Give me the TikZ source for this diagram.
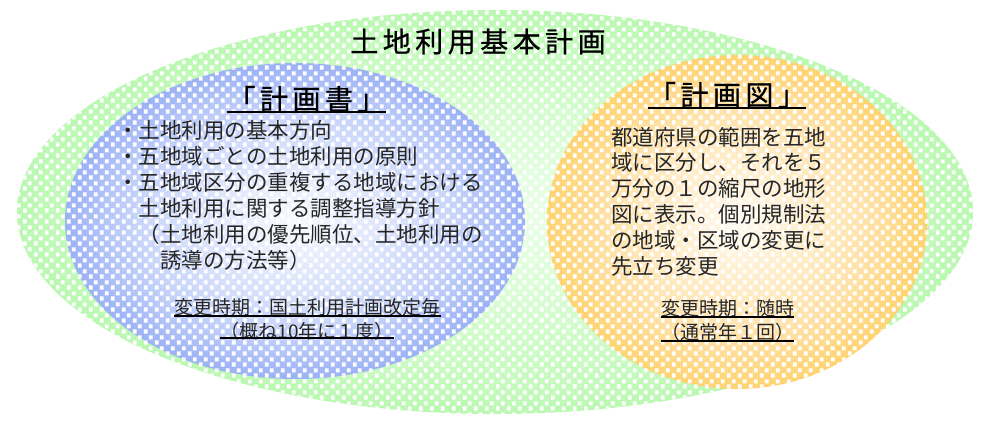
\documentclass[tikz,border=0pt]{standalone}
\usepackage{fontspec}
\usetikzlibrary{patterns}
\newfontfamily\jp{Noto Sans CJK JP}
\newfontfamily\jpsp{Noto Sans CJK JP}[LetterSpace=16, FakeBold=0.8]
\definecolor{gC}{RGB}{236,255,234}
\definecolor{gM}{RGB}{196,250,188}
\definecolor{gEdge}{RGB}{135,238,122}
\definecolor{bC}{RGB}{248,250,255}
\definecolor{bM}{RGB}{200,213,250}
\definecolor{bEdge}{RGB}{88,124,240}
\definecolor{oC}{RGB}{255,250,240}
\definecolor{oM}{RGB}{255,226,170}
\definecolor{oEdge}{RGB}{255,186,16}
\pgfdeclareradialshading{gshade}{\pgfpointorigin}{color(0bp)=(gC); color(22bp)=(gM); color(40bp)=(gEdge); color(50bp)=(gEdge)}
\pgfdeclareradialshading{bshade}{\pgfpointorigin}{color(0bp)=(bC); color(17bp)=(bM); color(37bp)=(bEdge); color(50bp)=(bEdge)}
\pgfdeclareradialshading{oshade}{\pgfpointorigin}{color(0bp)=(oC); color(17bp)=(oM); color(38bp)=(oEdge); color(50bp)=(oEdge)}
\pgfdeclarepatternformonly{chk}{\pgfqpoint{0pt}{0pt}}{\pgfqpoint{11pt}{11pt}}{\pgfqpoint{11pt}{11pt}}{%
  \pgfpathrectangle{\pgfqpoint{1pt}{0.5pt}}{\pgfqpoint{4pt}{4.5pt}}%
  \pgfpathrectangle{\pgfqpoint{6.5pt}{6pt}}{\pgfqpoint{4pt}{4.5pt}}%
  \pgfusepath{fill}}
\tikzset{
  body/.style={font=\jp\fontsize{21.5}{26}\selectfont, inner sep=0pt, anchor=west, text=black!85},
  small/.style={font=\jp\fontsize{19}{22}\selectfont, inner sep=0pt, text=black!85},
  head/.style={font=\jpsp\fontsize{28}{32}\selectfont, inner sep=0pt},
  uline/.style={line width=1.8pt},
  sline/.style={line width=1.5pt},
  dots/.style={pattern=chk, pattern color=white}
}
\begin{document}
\begin{tikzpicture}[x=1pt,y=-1pt]
\useasboundingbox (0,0) rectangle (988,422);
% outer green ellipse
\shade[shading=gshade] (495,212) ellipse [x radius=478, y radius=202];
\fill[dots] (495,212) ellipse [x radius=478, y radius=202];
% blue ellipse
\shade[shading=bshade] (295,221) ellipse [x radius=230, y radius=158];
\fill[dots] (295,221) ellipse [x radius=230, y radius=158];
% orange ellipse
\shade[shading=oshade] (737,222) ellipse [x radius=190, y radius=167];
\fill[dots] (737,222) ellipse [x radius=190, y radius=167];

\node[head] (title) at (478,41.5) {土地利用基本計画};

\node[head] (planhead) at (306.5,99) {「計画書」};
\draw[uline] (planhead.south west) -- (planhead.south east);
\node[body] (p1) at (117,130) {・土地利用の基本方向};
\node[body] (p2) at (117,156) {・五地域ごとの土地利用の原則};
\node[body] (p3) at (117,182) {・五地域区分の重複する地域における};
\node[body] (p4) at (117,208) {　土地利用に関する調整指導方針};
\node[body] (p5) at (117,234) {　（土地利用の優先順位、土地利用の};
\node[body] (p6) at (117,260) {　　誘導の方法等）};
\node[small] (plantime) at (307.5,307) {変更時期：国土利用計画改定毎};
\draw[sline] (plantime.south west) -- (plantime.south east);
\node[small] (planfreq) at (307,331) {（概ね10年に１度）};
\draw[sline] ([yshift=2pt]planfreq.south west) -- ([yshift=2pt]planfreq.south east);

\node[head] (maphead) at (727,95) {「計画図」};
\draw[uline] (maphead.south west) -- (maphead.south east);
\node[body] (m1) at (611,137) {都道府県の範囲を五地};
\node[body] (m2) at (611,162.8) {域に区分し、それを５};
\node[body] (m3) at (611,188.6) {万分の１の縮尺の地形};
\node[body] (m4) at (611,214.4) {図に表示。個別規制法};
\node[body] (m5) at (611,240.2) {の地域・区域の変更に};
\node[body] (m6) at (611,266) {先立ち変更};
\node[small] (maptime) at (727.5,308) {変更時期：随時};
\draw[sline] (maptime.south west) -- (maptime.south east);
\node[small] (mapfreq) at (727.5,332) {（通常年１回）};
\draw[sline] (mapfreq.south west) -- (mapfreq.south east);
\end{tikzpicture}
\end{document}
